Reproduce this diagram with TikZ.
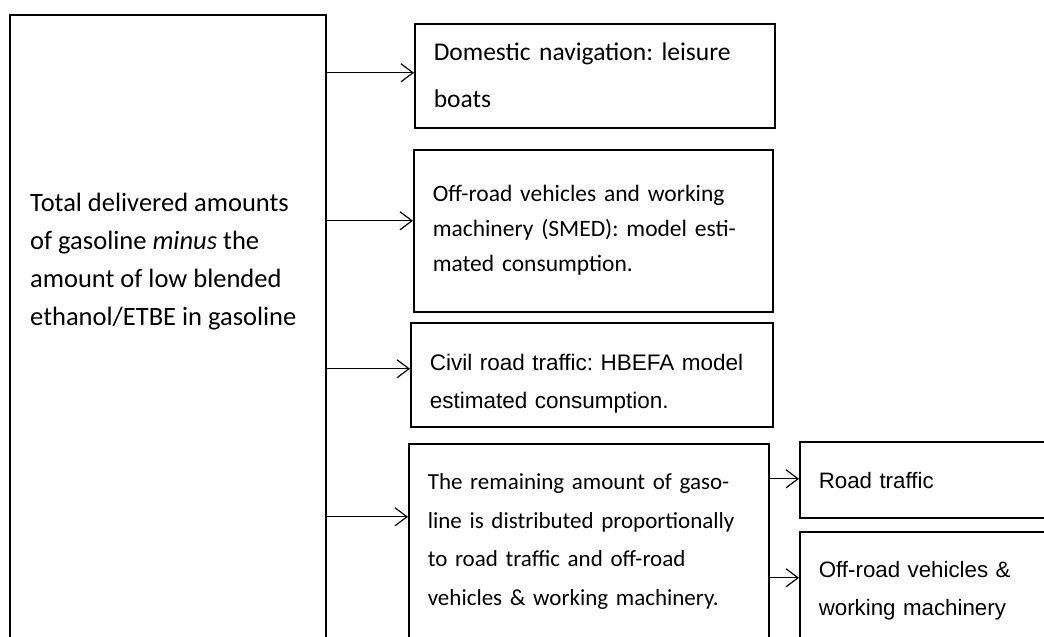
\documentclass[tikz,border=0pt]{standalone}
\usepackage{fontspec}
\setmainfont{Carlito}
\newfontfamily\arialfont{Liberation Sans}
\usetikzlibrary{arrows.meta,positioning}
\frenchspacing
\tikzset{
  box/.style={draw, line width=1.6pt, anchor=north west, inner xsep=19pt, inner ysep=0pt, align=left, text height=26pt},
  arr/.style={line width=1.2pt, -{Straight Barb[length=12pt,width=18pt,line width=1.2pt]}},
}
\begin{document}
\begin{tikzpicture}[x=1pt,y=-1pt]
\useasboundingbox (0,0) rectangle (1044,637);
\clip (0,0) rectangle (1044,637);

% left box and its text
\node[box, minimum width=316pt, minimum height=700pt] (total) at (9,14) {};
\node[anchor=base west, align=left, inner sep=0pt, font=\fontsize{26.5}{38}\selectfont] (totaltxt) at (30,325)
  {Total delivered amounts\\of gasoline \textit{minus} the\\amount of low blended\\ethanol/ETBE in gasoline};

% boxes on the right
\node[box, minimum width=360pt, minimum height=104pt, text width=322pt, text depth=56pt, font=\fontsize{25.5}{47}\selectfont] (dom) at (414,23)
  {Domestic navigation: leisure\\boats};
\node[box, minimum width=359pt, minimum height=162pt, text width=321pt, text depth=84pt, font=\fontsize{23.5}{35}\selectfont] (smed) at (413,149)
  {Off-road vehicles and working\\machinery (SMED): model esti-\\mated consumption.};
\node[box, minimum width=362pt, minimum height=104pt, text width=324pt, text depth=34pt, font=\arialfont\fontsize{22.5}{38}\selectfont] (civil) at (410,322)
  {Civil road traffic: HBEFA model\\estimated consumption.};
\node[box, minimum width=360pt, minimum height=200pt, text width=322pt, text depth=134pt, font=\fontsize{23}{38.5}\selectfont] (rest) at (408,443)
  {The remaining amount of gaso-\\line is distributed proportionally\\to road traffic and off-road\\vehicles \& working machinery.};
\node[box, minimum width=270pt, minimum height=76pt, text width=232pt, text depth=8pt, font=\arialfont\fontsize{22.3}{38}\selectfont] (road) at (799,441)
  {Road traffic};
\node[box, minimum width=270pt, minimum height=118pt, text width=232pt, text depth=52pt, font=\arialfont\fontsize{22.3}{38}\selectfont] (offroad) at (799,531)
  {Off-road vehicles \&\\working machinery};

% arrows
\coordinate (domin) at ([yshift=3pt]dom.west);
\coordinate (smedin) at ([yshift=10pt]smed.west);
\coordinate (civilin) at ([yshift=6pt]civil.west);
\coordinate (restin) at ([yshift=27pt]rest.west);
\coordinate (roadin) at ([yshift=1pt]road.west);
\coordinate (offroadin) at ([yshift=13pt]offroad.west);
\draw[arr] (total.east |- domin) -- (domin);
\draw[arr] (total.east |- smedin) -- (smedin);
\draw[arr] (total.east |- civilin) -- (civilin);
\draw[arr] (total.east |- restin) -- (restin);
\draw[arr] (rest.east |- roadin) -- (roadin);
\draw[arr] (rest.east |- offroadin) -- (offroadin);
\end{tikzpicture}
\end{document}
